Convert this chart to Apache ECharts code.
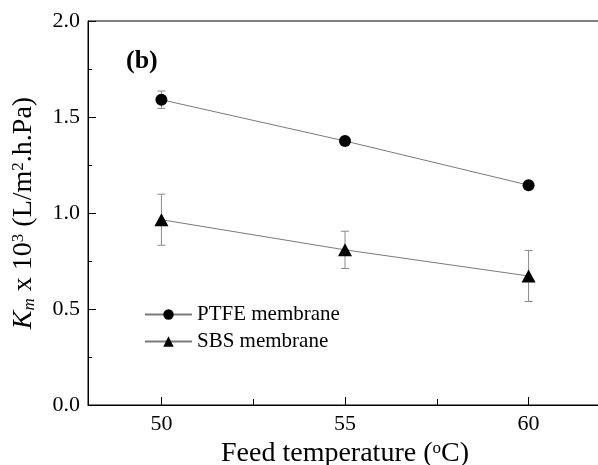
<!DOCTYPE html>
<html>
<head>
<meta charset="utf-8">
<script src="https://cdn.jsdelivr.net/npm/echarts@6/dist/echarts.min.js"></script>
<style>
  html, body { margin: 0; padding: 0; background: #fff; }
  #chart { width: 598px; height: 465px; }
</style>
</head>
<body>
<div id="chart"></div>
<script>
// Feed temperature (°C)
const temps = [50, 55, 60];
// Km x 10^3 values and error (half-width)
const ptfe = [1.59, 1.375, 1.145];
const ptfeErr = [0.045, 0.02, 0.02];
const sbs = [0.965, 0.808, 0.672];
const sbsErr = [0.133, 0.097, 0.133];

const xMajorTicks = [50, 55, 60];
const xMinorTicks = [52.5, 57.5];

const FONT = '"Liberation Serif", "Times New Roman", serif';

function pairs(xs, ys) {
    return xs.map((x, i) => [x, ys[i]]);
}

function errRows(xs, ys, es) {
    return xs.map((x, i) => [x, ys[i] - es[i], ys[i] + es[i]]);
}

function renderErr(params, api) {
    const x = api.value(0);
    const lo = api.coord([x, api.value(1)]);
    const hi = api.coord([x, api.value(2)]);
    const w = 4;
    const style = { stroke: '#8a8a8a', lineWidth: 1 };
    return {
        type: 'group',
        children: [
            { type: 'line', shape: { x1: lo[0], y1: lo[1], x2: hi[0], y2: hi[1] }, style },
            { type: 'line', shape: { x1: lo[0] - w, y1: lo[1], x2: lo[0] + w, y2: lo[1] }, style },
            { type: 'line', shape: { x1: hi[0] - w, y1: hi[1], x2: hi[0] + w, y2: hi[1] }, style }
        ]
    };
}

const chart = echarts.init(document.getElementById('chart'));

const option = {
    animation: false,
    backgroundColor: '#fff',
    textStyle: { fontFamily: FONT, color: '#000' },
    grid: {
        left: 88, top: 21, bottom: 60, right: -4,
        outerBoundsMode: 'none',
        show: true, borderColor: '#000', borderWidth: 1
    },
    legend: {
        orient: 'vertical',
        left: 144, top: 304, padding: 0,
        itemWidth: 47, itemHeight: 13, itemGap: 6,
        textStyle: { fontFamily: FONT, fontSize: 21, color: '#000' },
        data: ['PTFE membrane', 'SBS membrane']
    },
    xAxis: [{
        type: 'value', min: 48, max: 62,
        axisLine: { lineStyle: { color: '#000', width: 1 } },
        axisTick: { inside: true, length: 8, customValues: xMajorTicks, lineStyle: { color: '#000' } },
        axisLabel: { customValues: xMajorTicks, fontFamily: FONT, fontSize: 22, color: '#000', margin: 8 },
        splitLine: { show: false },
        name: '{n|Feed temperature (}{sup|o}{n|C)}',
        nameLocation: 'middle', nameGap: 30,
        nameTextStyle: {
            rich: {
                n: { fontFamily: FONT, fontSize: 28, color: '#000' },
                sup: { fontFamily: FONT, fontSize: 17, color: '#000', verticalAlign: 'top' }
            }
        }
    }, {
        type: 'value', min: 48, max: 62, position: 'bottom',
        axisLine: { show: false },
        axisTick: { inside: true, length: 6, customValues: xMinorTicks, lineStyle: { color: '#000' } },
        axisLabel: { show: false },
        splitLine: { show: false }
    }],
    yAxis: {
        type: 'value', min: 0, max: 2, interval: 0.5,
        axisLine: { show: true, lineStyle: { color: '#000', width: 1 } },
        axisTick: { inside: true, length: 8, lineStyle: { color: '#000' } },
        minorTick: { show: true, splitNumber: 2, length: 4, lineStyle: { color: '#000' } },
        axisLabel: { fontFamily: FONT, fontSize: 22, color: '#000', margin: 8, formatter: v => v.toFixed(1) },
        splitLine: { show: false },
        name: '{i|K}{sub|m}{n| x 10}{sup|3}{n| (L/m}{sup|2}{n|.h.Pa)}',
        nameLocation: 'middle', nameGap: 50, nameRotate: 90,
        nameTextStyle: {
            rich: {
                i: { fontFamily: FONT, fontSize: 28, fontStyle: 'italic', color: '#000' },
                n: { fontFamily: FONT, fontSize: 28, color: '#000' },
                sub: { fontFamily: FONT, fontSize: 17, fontStyle: 'italic', color: '#000', verticalAlign: 'bottom' },
                sup: { fontFamily: FONT, fontSize: 17, color: '#000', verticalAlign: 'top' }
            }
        }
    },
    graphic: [{
        type: 'text', left: 126, top: 48,
        style: { text: '(b)', fontFamily: FONT, fontSize: 26, fontWeight: 'bold', fill: '#000' }
    }],
    series: [{
        type: 'custom', name: 'ptfeErr', renderItem: renderErr,
        data: errRows(temps, ptfe, ptfeErr), encode: { x: 0, y: [1, 2] }, z: 1, silent: true
    }, {
        type: 'custom', name: 'sbsErr', renderItem: renderErr,
        data: errRows(temps, sbs, sbsErr), encode: { x: 0, y: [1, 2] }, z: 1, silent: true
    }, {
        name: 'PTFE membrane', type: 'line', data: pairs(temps, ptfe),
        symbol: 'circle', symbolSize: 12, z: 3,
        lineStyle: { color: '#7a7a7a', width: 1 },
        itemStyle: { color: '#000' }
    }, {
        name: 'SBS membrane', type: 'line', data: pairs(temps, sbs),
        symbol: 'triangle', symbolSize: [14, 13], z: 3,
        lineStyle: { color: '#7a7a7a', width: 1 },
        itemStyle: { color: '#000' }
    }]
};

chart.setOption(option);
window.addEventListener('resize', chart.resize);
</script>
</body>
</html>
